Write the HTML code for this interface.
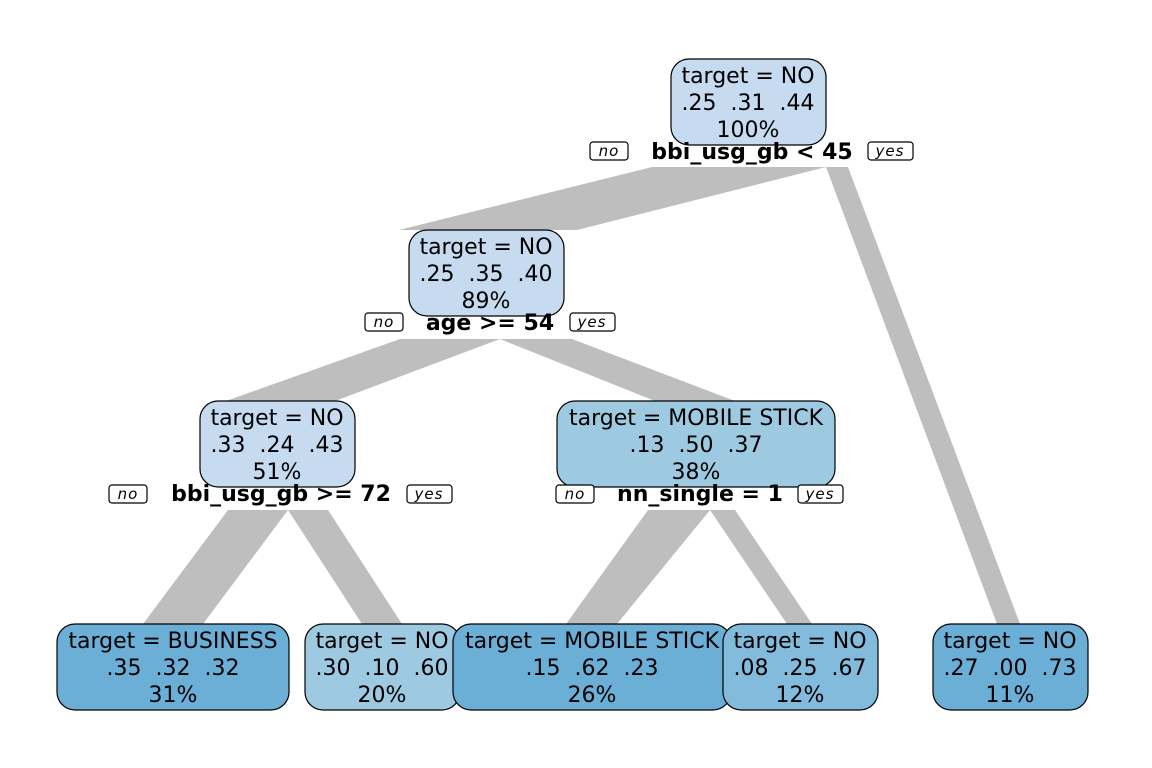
<!DOCTYPE html>
<html><head><style>body{margin:0;background:#fff}svg{display:block}text{white-space:pre}</style></head><body>
<svg width="1152" height="768" xmlns="http://www.w3.org/2000/svg" font-family="DejaVu Sans, sans-serif">
<g fill="#BEBEBE">
<polygon points="652,167 826,167 577,230 399,230"/>
<polygon points="826,167 848,167 1020,624 997,624"/>
<polygon points="400,339 500,339 335,401 226,401"/>
<polygon points="500,339 572,339 735,401 655,401"/>
<polygon points="228,510 288,510 203,624 143,624"/>
<polygon points="288,510 328,510 402,624 362,624"/>
<polygon points="648,510 710,510 617,624 566,624"/>
<polygon points="710,510 735,510 812,624 787,624"/>
</g>
<g stroke="#000" stroke-width="1.2">
<rect x="671" y="59" width="155" height="86" rx="18" fill="#C6DBEF"/>
<rect x="409" y="230" width="155" height="86" rx="18" fill="#C6DBEF"/>
<rect x="200" y="401" width="155" height="86" rx="18" fill="#C6DBEF"/>
<rect x="557" y="401" width="278" height="86" rx="18" fill="#9ECAE1"/>
<rect x="57" y="624" width="232" height="86" rx="18" fill="#6BAED6"/>
<rect x="305" y="624" width="155" height="86" rx="18" fill="#9ECAE1"/>
<rect x="453" y="624" width="278" height="86" rx="18" fill="#6BAED6"/>
<rect x="723" y="624" width="155" height="86" rx="18" fill="#82BBDB"/>
<rect x="933" y="624" width="155" height="86" rx="18" fill="#6BAED6"/>
</g>
<g font-size="22" text-anchor="middle" fill="#000">
<text x="748" y="83">target = NO</text><text x="748" y="110">.25  .31  .44</text><text x="748" y="137">100%</text>
<text x="486" y="254">target = NO</text><text x="486" y="281">.25  .35  .40</text><text x="486" y="308">89%</text>
<text x="277" y="425">target = NO</text><text x="277" y="452">.33  .24  .43</text><text x="277" y="479">51%</text>
<text x="696" y="425">target = MOBILE STICK</text><text x="696" y="452">.13  .50  .37</text><text x="696" y="479">38%</text>
<text x="173" y="648">target = BUSINESS</text><text x="173" y="675">.35  .32  .32</text><text x="173" y="702">31%</text>
<text x="382" y="648">target = NO</text><text x="382" y="675">.30  .10  .60</text><text x="382" y="702">20%</text>
<text x="592" y="648">target = MOBILE STICK</text><text x="592" y="675">.15  .62  .23</text><text x="592" y="702">26%</text>
<text x="800" y="648">target = NO</text><text x="800" y="675">.08  .25  .67</text><text x="800" y="702">12%</text>
<text x="1010" y="648">target = NO</text><text x="1010" y="675">.27  .00  .73</text><text x="1010" y="702">11%</text>
</g>
<g font-size="22" font-weight="bold" text-anchor="middle">
<text x="752" y="159">bbi_usg_gb &lt; 45</text>
<text x="490" y="330">age &gt;= 54</text>
<text x="281" y="501">bbi_usg_gb &gt;= 72</text>
<text x="700" y="501">nn_single = 1</text>
</g>
<g stroke="#000" stroke-width="1.2" fill="#fff">
<rect x="590" y="142" width="38" height="18" rx="3"/><rect x="868" y="142" width="45" height="18" rx="3"/>
<rect x="365" y="313" width="38" height="18" rx="3"/><rect x="570" y="313" width="45" height="18" rx="3"/>
<rect x="109" y="485" width="38" height="18" rx="3"/><rect x="407" y="485" width="45" height="18" rx="3"/>
<rect x="556" y="485" width="38" height="18" rx="3"/><rect x="798" y="485" width="45" height="18" rx="3"/>
</g>
<g font-size="15" font-style="italic" text-anchor="middle" fill="#000" letter-spacing="1">
<text x="609" y="156">no</text><text x="890" y="156">yes</text>
<text x="384" y="327">no</text><text x="592" y="327">yes</text>
<text x="128" y="499">no</text><text x="429" y="499">yes</text>
<text x="575" y="499">no</text><text x="820" y="499">yes</text>
</g>
</svg>
</body></html>
